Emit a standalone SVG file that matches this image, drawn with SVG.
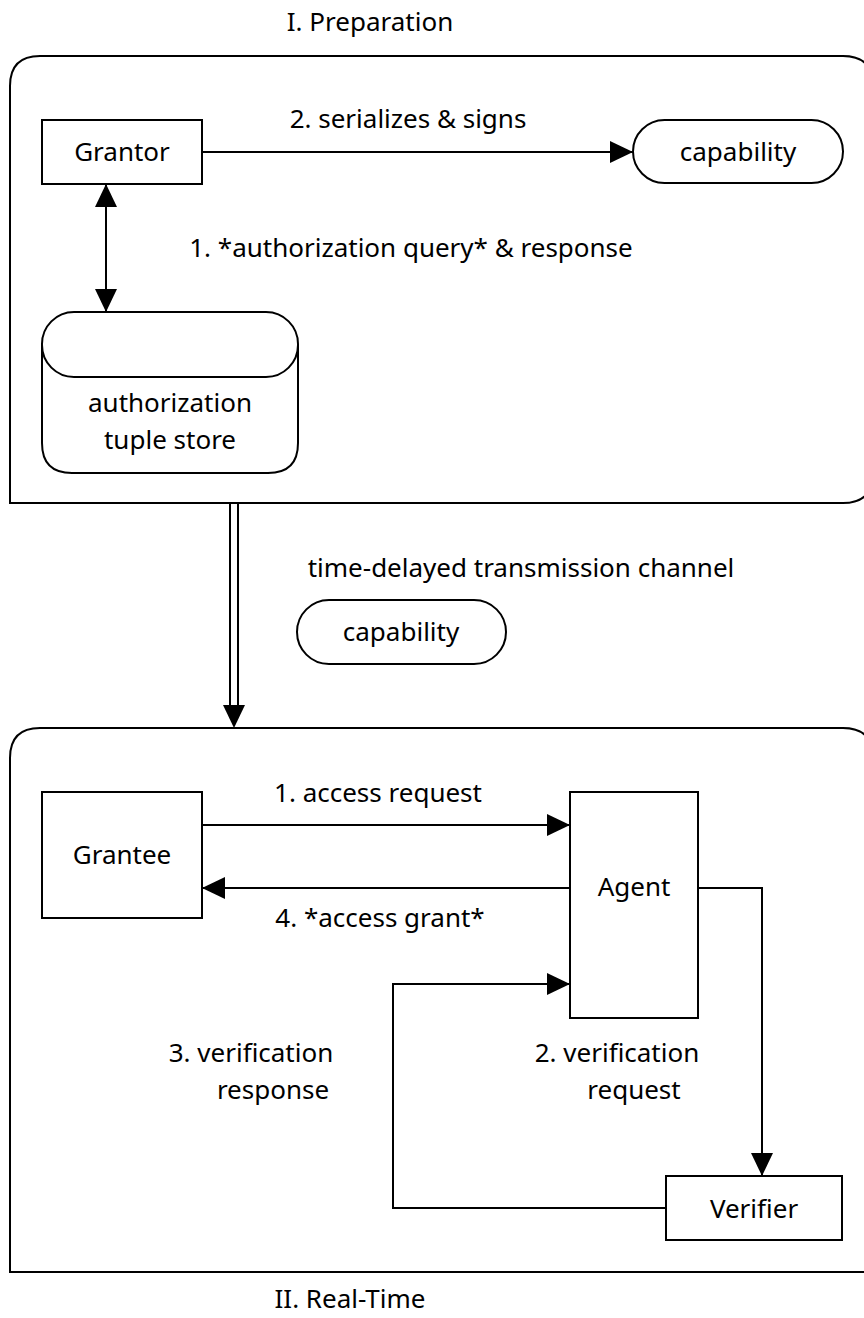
<svg xmlns="http://www.w3.org/2000/svg" width="864" height="1318" viewBox="0 0 864 1318">
  <style>
    text { font-family: "Noto Sans", "Open Sans", sans-serif; font-size: 26px; fill: #000; }
    .frame, .box { fill: #fff; stroke: #000; stroke-width: 2; }
    .link { fill: none; stroke: #000; stroke-width: 2; }
    .mid { text-anchor: middle; }
  </style>
  <defs>
    <marker id="arrow" markerWidth="23" markerHeight="22" refX="23" refY="11" orient="auto-start-reverse" markerUnits="userSpaceOnUse">
      <path d="M0,0 L23,11 L0,22 Z" fill="#000"/>
    </marker>
  </defs>

  <rect width="864" height="1318" fill="#fff"/>

  <!-- phase frames -->
  <g id="frame-preparation">
    <path class="frame" d="M10,503 V86 Q10,56 40,56 H843 Q873,56 873,86 V473 Q873,503 843,503 Z"/>
    <text class="mid" x="370" y="31">I. Preparation</text>
  </g>
  <g id="frame-realtime">
    <path class="frame" d="M10,1272 V758 Q10,728 40,728 H843 Q873,728 873,758 V1272 Z"/>
    <text class="mid" x="350" y="1308">II. Real-Time</text>
  </g>

  <!-- connectors -->
  <g id="connectors">
    <line class="link" x1="202" y1="152" x2="633" y2="152" marker-end="url(#arrow)"/>
    <line class="link" x1="106" y1="184" x2="106" y2="312" marker-start="url(#arrow)" marker-end="url(#arrow)"/>
    <!-- transmission channel: double shaft with single head -->
    <line class="link" x1="230" y1="503" x2="230" y2="706"/>
    <line class="link" x1="238" y1="503" x2="238" y2="706"/>
    <path d="M223,705 L245,705 L234,728 Z" fill="#000"/>
    <line class="link" x1="202" y1="825" x2="570" y2="825" marker-end="url(#arrow)"/>
    <line class="link" x1="570" y1="888" x2="202" y2="888" marker-end="url(#arrow)"/>
    <polyline class="link" points="698,888 762,888 762,1176" marker-end="url(#arrow)"/>
    <polyline class="link" points="666,1208 393,1208 393,984 570,984" marker-end="url(#arrow)"/>
    <text class="mid" x="408" y="128">2. serializes &amp; signs</text>
    <text class="mid" x="411" y="257">1. *authorization query* &amp; response</text>
    <text class="mid" x="521" y="577">time-delayed transmission channel</text>
    <text class="mid" x="378" y="802">1. access request</text>
    <text class="mid" x="380" y="927">4. *access grant*</text>
    <text class="mid"><tspan x="251" y="1062">3. verification</tspan><tspan x="273" y="1099">response</tspan></text>
    <text class="mid"><tspan x="617" y="1062">2. verification</tspan><tspan x="634" y="1099">request</tspan></text>
  </g>

  <!-- nodes -->
  <g id="grantor">
    <rect class="box" x="42" y="120" width="160" height="64"/>
    <text class="mid" x="122" y="161">Grantor</text>
  </g>
  <g id="capability-issued">
    <rect class="box" x="633" y="120" width="210" height="63" rx="31.5"/>
    <text class="mid" x="738" y="161">capability</text>
  </g>
  <g id="tuple-store">
    <path class="box" d="M42,344 V443 Q42,473 72,473 H268 Q298,473 298,443 V344"/>
    <rect class="box" x="42" y="312" width="256" height="65" rx="32"/>
    <text class="mid"><tspan x="170" y="412">authorization</tspan><tspan x="170" y="449">tuple store</tspan></text>
  </g>
  <g id="capability-in-transit">
    <rect class="box" x="297" y="600" width="209" height="64" rx="32"/>
    <text class="mid" x="401" y="641">capability</text>
  </g>
  <g id="grantee">
    <rect class="box" x="42" y="792" width="160" height="126"/>
    <text class="mid" x="122" y="864">Grantee</text>
  </g>
  <g id="agent">
    <rect class="box" x="570" y="792" width="128" height="226"/>
    <text class="mid" x="634" y="896">Agent</text>
  </g>
  <g id="verifier">
    <rect class="box" x="666" y="1176" width="176" height="64"/>
    <text class="mid" x="754" y="1218">Verifier</text>
  </g>
</svg>
